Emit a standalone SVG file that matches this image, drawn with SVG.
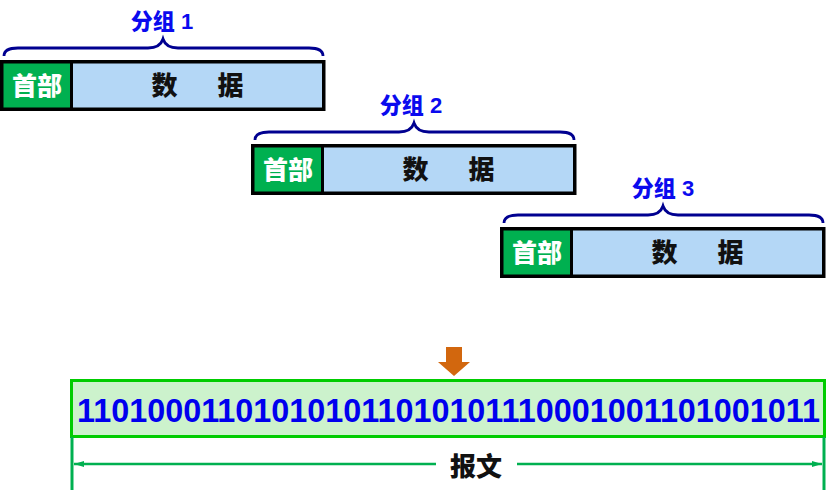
<svg xmlns="http://www.w3.org/2000/svg" width="836" height="490" viewBox="0 0 836 490">
<defs>
<style>
.frame{fill:none;stroke:#000;stroke-width:3.5}
.hdr{fill:#00B050}
.dat{fill:#B4D7F6}
.sep{stroke:#000;stroke-width:3}
.brace{fill:none;stroke:#000090;stroke-width:2.8}
.lbl{font-family:"Liberation Sans","Noto Sans CJK SC",sans-serif;font-weight:900;font-size:22px;fill:#0A0AEE;text-anchor:middle}
.ht{font-family:"Liberation Sans","Noto Sans CJK SC",sans-serif;font-weight:900;font-size:25px;fill:#fff;text-anchor:middle}
.dt{font-family:"Liberation Sans","Noto Sans CJK SC",sans-serif;font-weight:900;font-size:26px;fill:#111;text-anchor:middle}
.gl{stroke:#00B050;stroke-width:3;fill:none}
</style>
<marker id="ah" viewBox="0 0 10 6" refX="10" refY="3" markerWidth="12" markerHeight="6" markerUnits="userSpaceOnUse" orient="auto-start-reverse">
<path d="M0,0 L10,3 L0,6 Z" fill="#00B050"/>
</marker>
<g id="pkt">
<rect class="hdr" x="2" y="62" width="69" height="47"/>
<rect class="dat" x="72" y="62" width="250" height="47"/>
<line class="sep" x1="71.5" y1="62" x2="71.5" y2="109"/>
<rect class="frame" x="1.75" y="61.75" width="322" height="47.5"/>
<text class="ht" x="37" y="95">首部</text>
<text class="dt" y="95"><tspan x="164.5">数</tspan><tspan x="230.5">据</tspan></text>
<path class="brace" d="M4,56 Q4,48 18,48 H148 Q160,48 163,39 Q166,48 178,48 H309 Q323,48 323,56"/>
</g>
</defs>
<g id="packet1">
<use href="#pkt"/>
<text class="lbl" x="162" y="29">分组 1</text>
</g>
<g id="packet2" transform="translate(251,84)">
<use href="#pkt"/>
<text class="lbl" x="160" y="29">分组 2</text>
</g>
<g id="packet3" transform="translate(500,167)">
<use href="#pkt"/>
<text class="lbl" x="163" y="29">分组 3</text>
</g>
<g id="down-arrow">
<path d="M446,347 H462 V362 H470 L454,376 L438,362 H446 Z" fill="#D2670E"/>
</g>
<g id="message">
<rect x="71.5" y="380.5" width="753" height="56" fill="#CCF2CC" stroke="#00CC00" stroke-width="3"/>
<text x="77" y="422" textLength="743" lengthAdjust="spacingAndGlyphs" style="font-family:'Liberation Sans',sans-serif;font-weight:bold;font-size:33px;fill:#0000EE">110100011010101011010101110001001101001011</text>
</g>
<g id="connectors">
<line class="gl" x1="72" y1="437" x2="72" y2="490"/>
<line class="gl" x1="824" y1="437" x2="824" y2="490"/>
<line x1="74" y1="464" x2="436" y2="464" stroke="#00B050" stroke-width="2.5" marker-start="url(#ah)"/>
<line x1="517" y1="464" x2="822" y2="464" stroke="#00B050" stroke-width="2.5" marker-end="url(#ah)"/>
</g>
<g id="label-message">
<text class="dt" x="476" y="476">报文</text>
</g>
</svg>
